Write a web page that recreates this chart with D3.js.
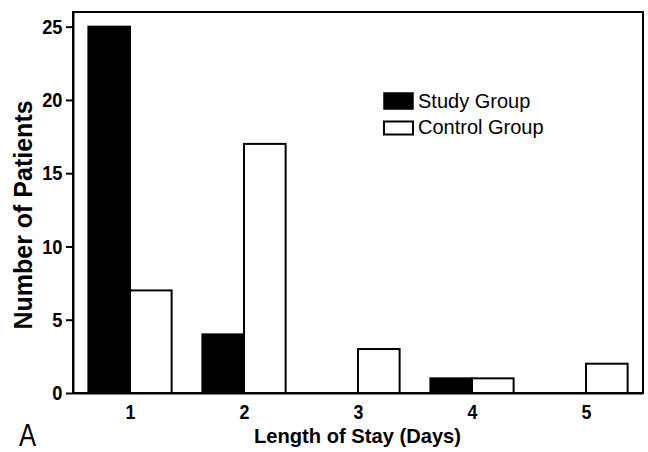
<!DOCTYPE html>
<html>
<head>
<meta charset="utf-8">
<script src="https://cdn.jsdelivr.net/npm/d3@7"></script>
<style>
  html, body { margin: 0; padding: 0; background: #fff; }
  svg { display: block; font-family: "Liberation Sans", Arial, Helvetica, sans-serif; }
</style>
</head>
<body>
<svg id="chart" width="648" height="452"></svg>
<script>
const categories = [1, 2, 3, 4, 5];
const studyGroup = [25, 4, 0, 1, 0];
const controlGroup = [7, 17, 3, 1, 2];
const yTicks = [0, 5, 10, 15, 20, 25];
const seriesNames = ["Study Group", "Control Group"];
const xTitle = "Length of Stay (Days)";
const yTitle = "Number of Patients";
const panelLabel = "A";

(function () {
const svg = d3.select("#chart");
const mLeft = 73, mRight = 643, mTop = 12, mBottom = 393;

const x = d3.scaleLinear().domain([0.5, 5.5]).range([mLeft, mRight]);
const y = d3.scaleLinear().domain([0, 26]).range([mBottom, mTop]);
const bw = x(1.365) - x(1);

// bars
const g = svg.append("g");
g.selectAll("rect.study").data(categories.map((c, i) => ({c, v: studyGroup[i]})).filter(d => d.v > 0))
  .enter().append("rect").attr("class", "study")
  .attr("x", d => x(d.c) - bw).attr("width", bw)
  .attr("y", d => y(d.v)).attr("height", d => y(0) - y(d.v))
  .attr("fill", "#000").attr("stroke", "#000").attr("stroke-width", 2);
g.selectAll("rect.control").data(categories.map((c, i) => ({c, v: controlGroup[i]})).filter(d => d.v > 0))
  .enter().append("rect").attr("class", "control")
  .attr("x", d => x(d.c)).attr("width", bw)
  .attr("y", d => y(d.v)).attr("height", d => y(0) - y(d.v))
  .attr("fill", "#fff").attr("stroke", "#000").attr("stroke-width", 2);

// frame
svg.append("rect").attr("x", mLeft).attr("y", mTop)
  .attr("width", mRight - mLeft).attr("height", mBottom - mTop)
  .attr("fill", "none").attr("stroke", "#000").attr("stroke-width", 2);

// y axis
const yAxis = svg.append("g").attr("transform", `translate(${mLeft},0)`)
  .call(d3.axisLeft(y).tickValues(yTicks).tickSize(7).tickPadding(3).tickSizeOuter(0));
yAxis.select(".domain").attr("stroke-width", 2);
yAxis.selectAll(".tick line").attr("stroke-width", 2);
yAxis.selectAll("text").attr("font-size", 21).attr("font-weight", "bold")
  .attr("font-family", "Liberation Sans, Arial, sans-serif").attr("fill", "#000")
  .attr("x", -10.5 / 0.87).attr("transform", "scale(0.87,1)");

// x axis
const xAxis = svg.append("g").attr("transform", `translate(0,${mBottom})`)
  .call(d3.axisBottom(x).tickValues(categories).tickSize(0).tickPadding(11).tickSizeOuter(0).tickFormat(d3.format("d")));
xAxis.select(".domain").attr("stroke-width", 2);
xAxis.selectAll("text").attr("font-size", 20.5).attr("font-weight", "bold")
  .attr("font-family", "Liberation Sans, Arial, sans-serif").attr("fill", "#000")
  .attr("transform", "scale(0.87,1)");

// axis titles
svg.append("text").attr("x", 254).attr("y", 443)
  .attr("font-size", 21).attr("font-weight", "bold")
  .attr("textLength", 207).attr("lengthAdjust", "spacingAndGlyphs")
  .text(xTitle);
svg.append("text").attr("transform", `translate(32,215) rotate(-90)`)
  .attr("text-anchor", "middle").attr("font-size", 25).attr("font-weight", "bold")
  .text(yTitle);

// legend
const lg = svg.append("g");
lg.append("rect").attr("x", 384).attr("y", 93).attr("width", 29).attr("height", 16)
  .attr("fill", "#000").attr("stroke", "#000").attr("stroke-width", 1.5);
lg.append("rect").attr("x", 384).attr("y", 121.5).attr("width", 29).attr("height", 13)
  .attr("fill", "#fff").attr("stroke", "#000").attr("stroke-width", 2);
lg.append("text").attr("x", 418).attr("y", 108).attr("font-size", 20).text(seriesNames[0]);
lg.append("text").attr("x", 418).attr("y", 134).attr("font-size", 20).text(seriesNames[1]);

// panel label
svg.append("text").attr("transform", "translate(19,446) scale(0.8,1)")
  .attr("font-size", 32).text(panelLabel);
})();
</script>
</body>
</html>
